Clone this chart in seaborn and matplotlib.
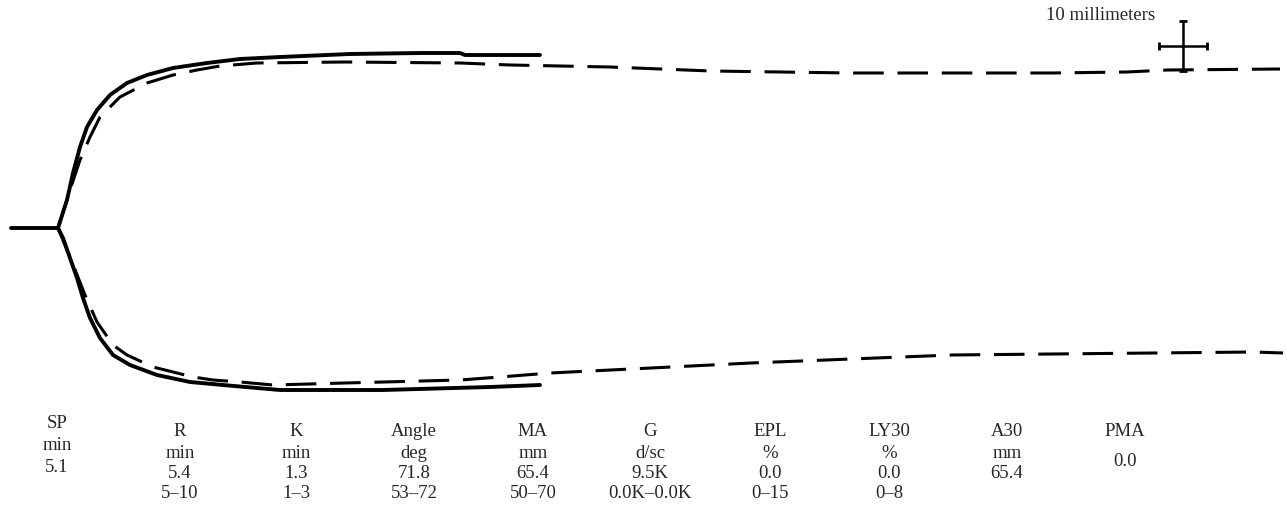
import numpy as np
import pandas as pd
import seaborn as sns
import matplotlib
matplotlib.use("Agg")
import matplotlib.pyplot as plt

# TEG tracing, chart millimetres (time along x, amplitude along y)
solid_up_x = [2.2, 11.6, 13.4, 14.6, 16.0, 17.4, 19.4, 22.0, 25.4, 29.4, 34.6, 41.4, 48.0, 56.0, 70.0, 84.2, 92.0, 93.0, 108.0]
solid_up_y = [0.0, 0.0, 5.6, 11.0, 16.2, 20.2, 23.6, 26.6, 29.0, 30.6, 32.0, 33.0, 33.8, 34.2, 34.8, 35.0, 35.0, 34.6, 34.6]

solid_lo_x = [11.6, 12.6, 14.0, 15.4, 16.6, 18.0, 20.0, 22.6, 26.0, 31.4, 38.0, 44.6, 51.4, 56.0, 76.6, 98.0, 108.0]
solid_lo_y = [0.0, -2.0, -6.0, -10.0, -14.0, -18.0, -22.0, -25.4, -27.4, -29.4, -30.8, -31.4, -32.0, -32.4, -32.4, -31.8, -31.4]

dash_up_x = [11.6, 14.0, 16.0, 18.0, 20.0, 24.0, 29.4, 34.6, 39.4, 44.0, 51.4, 69.0, 92.0, 102.0, 122.0, 142.2, 170.2, 210.4, 225.4, 233.6, 256.0]
dash_up_y = [0.0, 7.6, 13.6, 18.2, 22.2, 26.2, 29.0, 30.6, 31.6, 32.4, 33.0, 33.2, 33.0, 32.6, 32.2, 31.4, 31.0, 31.0, 31.2, 31.6, 31.8]

dash_lo_x = [11.6, 14.4, 17.0, 19.4, 22.6, 25.4, 30.6, 34.6, 38.6, 42.6, 48.0, 54.6, 69.0, 92.0, 100.0, 110.0, 130.2, 150.2, 170.2, 190.4, 210.4, 230.6, 250.6, 256.6]
dash_lo_y = [0.0, -6.8, -13.4, -18.8, -23.4, -25.4, -27.8, -28.8, -29.8, -30.4, -30.8, -31.4, -31.0, -30.4, -29.8, -29.0, -28.0, -27.0, -26.2, -25.4, -25.2, -25.0, -24.8, -25.0]

# parameter table under the tracing
params = ["SP", "R", "K", "Angle", "MA", "G", "EPL", "LY30", "A30", "PMA"]
units = ["min", "min", "min", "deg", "mm", "d/sc", "%", "%", "mm", ""]
values = ["5.1", "5.4", "1.3", "71.8", "65.4", "9.5K", "0.0", "0.0", "65.4", "0.0"]
ranges = ["", "5\u201310", "1\u20133", "53\u201372", "50\u201370", "0.0K\u20130.0K", "0\u201315", "0\u20138", "", ""]
col_x = [11.4, 36.0, 59.2, 82.8, 106.6, 130.0, 154.0, 177.8, 201.4, 225.0]

sns.set_style("white")
plt.rcParams['font.family'] = ['Liberation Serif', 'DejaVu Serif']

fig = plt.figure(figsize=(12.87, 5.21), dpi=100)
ax = fig.add_axes([0, 0, 1, 1])

kw = dict(ax=ax, sort=False, estimator=None, color="black")
sns.lineplot(x=dash_up_x, y=dash_up_y, lw=2.2, linestyle=(0, (10, 4.5)), **kw)
sns.lineplot(x=dash_lo_x, y=dash_lo_y, lw=2.2, linestyle=(0, (10, 4.5)), **kw)
sns.lineplot(x=solid_up_x, y=solid_up_y, lw=2.8, **kw)
sns.lineplot(x=solid_lo_x, y=solid_lo_y, lw=2.8, **kw)

# 10 mm scale cross
ax.errorbar([236.6], [36.4], xerr=4.8, yerr=5.0, fmt="none", ecolor="black",
            elinewidth=1.8, capsize=3, capthick=2)
ax.text(231.0, 42.6, "10 millimeters", ha="right", va="center", fontsize=13.5)

for i, name in enumerate(params):
    x = col_x[i]
    if name == "SP":
        rows = [name, units[i], values[i]]
        ys = [-39.2, -43.6, -48.0]
    elif name == "PMA":
        rows = [name, values[i]]
        ys = [-40.8, -46.6]
    else:
        rows = [name, units[i], values[i], ranges[i]]
        ys = [-40.8, -45.0, -49.0, -53.2]
    for txt, y in zip(rows, ys):
        if txt:
            ax.text(x, y, txt, ha="center", va="center", fontsize=13.5)

ax.set_xlim(0, 257.4)
ax.set_ylim(-58.6, 45.6)
ax.axis("off")

plt.savefig("out.png", dpi=100)
